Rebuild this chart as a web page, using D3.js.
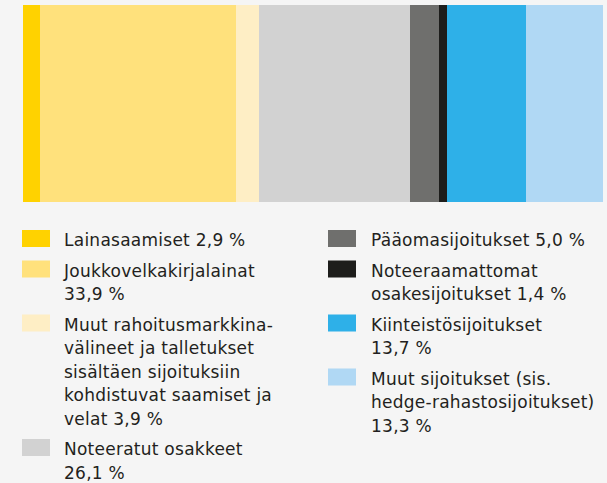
<!DOCTYPE html>
<html lang="fi">
<head>
  <meta charset="UTF-8">
  <title>Sijoitusjakauma</title>
  <script src="https://d3js.org/d3.v7.min.js"></script>
  <style>
    body { margin: 0; background: #f5f5f5; }
    text { font-family: "DejaVu Sans", sans-serif; fill: #231f20; letter-spacing: 0.25px; }
  </style>
</head>
<body>
<script>
  // Data
  const categories = ['Lainasaamiset', 'Joukkovelkakirjalainat', 'Muut rahoitusmarkkinavälineet', 'Noteeratut osakkeet',
    'Pääomasijoitukset', 'Noteeraamattomat osakesijoitukset', 'Kiinteistösijoitukset', 'Muut sijoitukset'];
  const values = [2.9, 33.9, 3.9, 26.1, 5.0, 1.4, 13.7, 13.3];
  const colors = ['#ffd200', '#ffe17c', '#feeec5', '#d2d2d2', '#6f6f6d', '#1d1d1b', '#2eb0e8', '#b0d8f4'];
  const legendLines = [
    ['Lainasaamiset 2,9 %'],
    ['Joukkovelkakirjalainat', '33,9 %'],
    ['Muut rahoitusmarkkina-', 'välineet ja talletukset', 'sisältäen sijoituksiin', 'kohdistuvat saamiset ja', 'velat 3,9 %'],
    ['Noteeratut osakkeet', '26,1 %'],
    ['Pääomasijoitukset 5,0 %'],
    ['Noteeraamattomat', 'osakesijoitukset 1,4 %'],
    ['Kiinteistösijoitukset', '13,7 %'],
    ['Muut sijoitukset (sis.', 'hedge-rahastosijoitukset)', '13,3 %']
  ];

  const width = 607, height = 483;
  const bar = {left: 23, right: 603, top: 5, bottom: 202};
  const lineH = 23.5, itemGap = 7;

  const svg = d3.select('body').append('svg')
    .attr('width', width)
    .attr('height', height);

  const data = categories.map((c, i) => ({name: c, value: values[i], color: colors[i], lines: legendLines[i]}));
  let acc = 0;
  data.forEach(d => { d.x0 = acc; acc += d.value; d.x1 = acc; });

  const x = d3.scaleLinear()
    .domain([0, acc])
    .range([bar.left, bar.right]);

  svg.append('g')
    .selectAll('rect')
    .data(data)
    .join('rect')
    .attr('x', d => x(d.x0))
    .attr('y', bar.top)
    .attr('width', d => x(d.x1) - x(d.x0))
    .attr('height', bar.bottom - bar.top)
    .attr('fill', d => d.color)
    .attr('shape-rendering', 'crispEdges');

  // Legend, two columns
  const columns = [
    {items: data.slice(0, 4), sx: 22, tx: 64},
    {items: data.slice(4), sx: 328, tx: 371}
  ];

  columns.forEach(col => {
    let y = 246;
    col.items.forEach(d => {
      svg.append('rect')
        .attr('x', col.sx)
        .attr('y', y - 16)
        .attr('width', 28)
        .attr('height', 17)
        .attr('fill', d.color);

      const t = svg.append('text')
        .attr('x', col.tx)
        .attr('y', y)
        .style('font-size', '17px');
      d.lines.forEach((line, i) => {
        t.append('tspan')
          .attr('x', col.tx)
          .attr('y', y + i * lineH)
          .text(line);
      });
      y += d.lines.length * lineH + itemGap;
    });
  });
</script>
</body>
</html>
